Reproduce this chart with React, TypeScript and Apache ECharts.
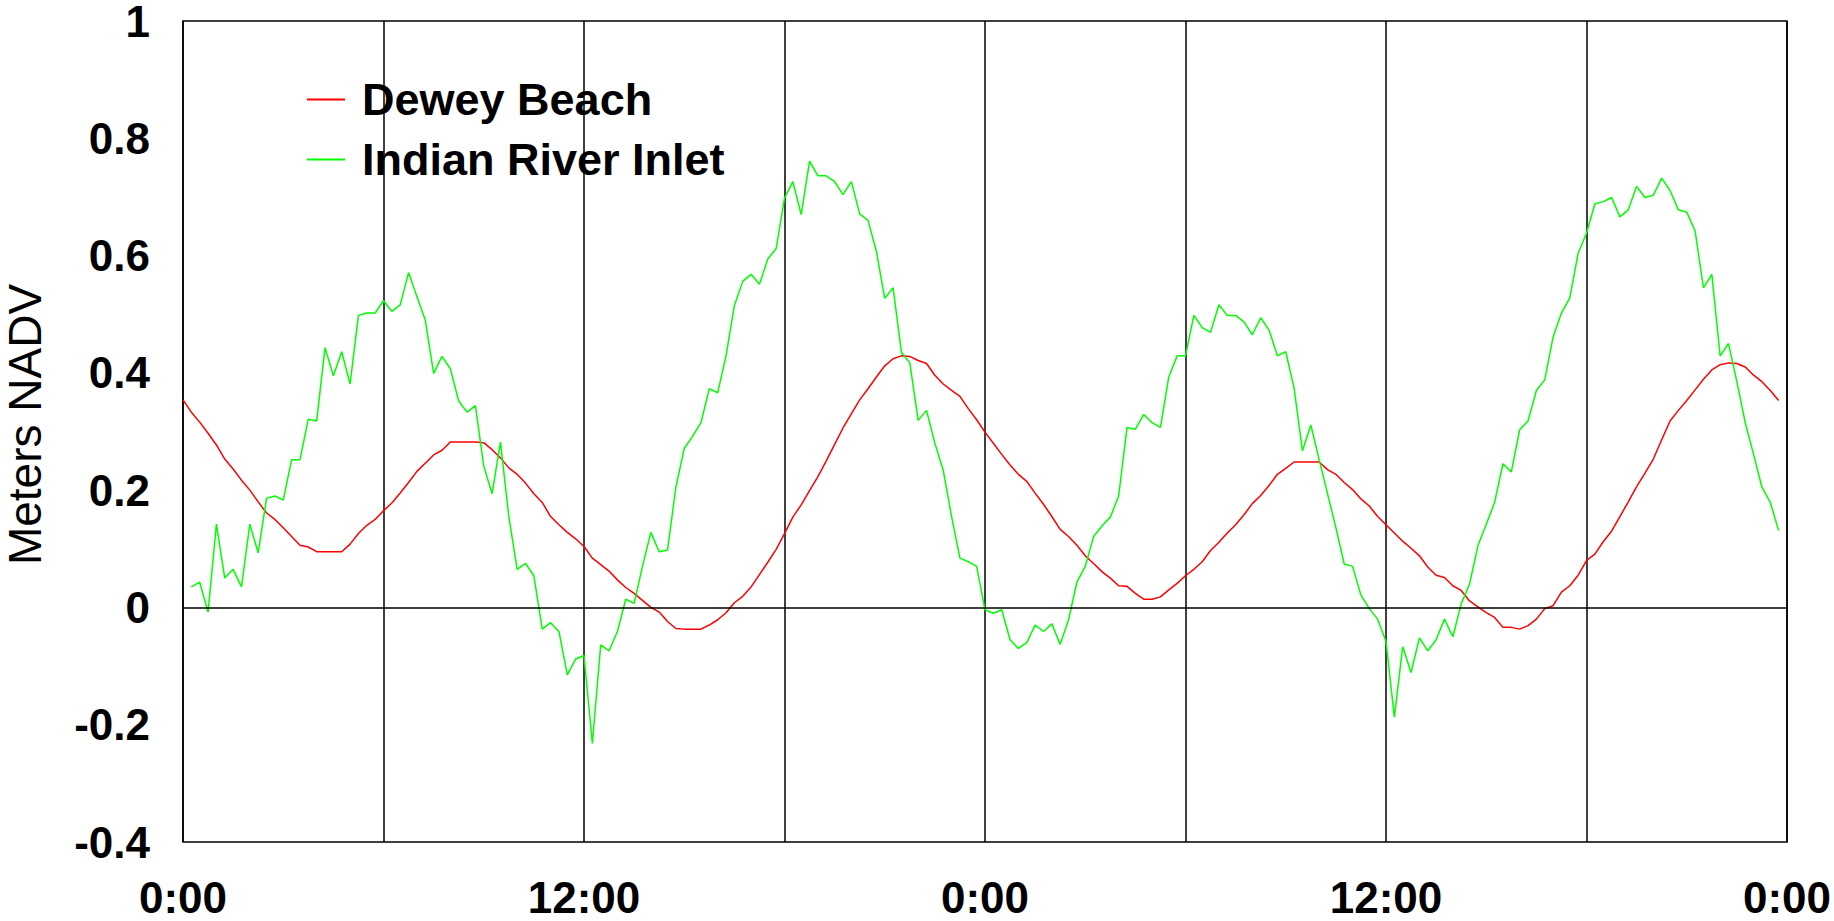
import React, { useEffect, useRef } from "react";
import * as echarts from "echarts";

// Sampling: one reading every 15 minutes, starting at 0:00 of day 1
const STEP_HOURS = 0.25;

// Dewey Beach (red), metres NAVD — day 1, 0:00–23:45
const DEWEY_DAY1 = [
  0.354, 0.333, 0.316, 0.297, 0.277, 0.253, 0.236, 0.217,
  0.200, 0.180, 0.161, 0.150, 0.136, 0.121, 0.106, 0.103,
  0.095, 0.095, 0.095, 0.095, 0.108, 0.126, 0.140, 0.150,
  0.165, 0.178, 0.195, 0.213, 0.232, 0.246, 0.260, 0.268,
  0.282, 0.282, 0.282, 0.282, 0.281, 0.269, 0.255, 0.238,
  0.227, 0.212, 0.194, 0.179, 0.155, 0.141, 0.128, 0.117,
  0.104, 0.084, 0.073, 0.062, 0.047, 0.034, 0.024, 0.012,
  0.000, -0.008, -0.024, -0.036, -0.037, -0.037, -0.037, -0.030,
  -0.021, -0.009, 0.008, 0.019, 0.035, 0.056, 0.077, 0.099,
  0.126, 0.154, 0.175, 0.199, 0.223, 0.250, 0.278, 0.306,
  0.330, 0.354, 0.373, 0.393, 0.412, 0.424, 0.429, 0.428,
  0.421, 0.416, 0.396, 0.381, 0.370, 0.360, 0.339, 0.320,
];

// Dewey Beach — day 2, 0:00–23:45
const DEWEY_DAY2 = [
  0.299, 0.280, 0.261, 0.243, 0.227, 0.215, 0.195, 0.176,
  0.155, 0.133, 0.121, 0.106, 0.088, 0.075, 0.061, 0.050,
  0.037, 0.036, 0.024, 0.014, 0.014, 0.018, 0.030, 0.041,
  0.054, 0.065, 0.078, 0.097, 0.111, 0.127, 0.141, 0.158,
  0.177, 0.191, 0.208, 0.227, 0.237, 0.248, 0.248, 0.248,
  0.248, 0.235, 0.227, 0.213, 0.201, 0.185, 0.173, 0.155,
  0.141, 0.127, 0.113, 0.101, 0.088, 0.069, 0.055, 0.051,
  0.037, 0.029, 0.011, 0.001, -0.009, -0.017, -0.034, -0.034,
  -0.037, -0.031, -0.020, -0.002, 0.003, 0.026, 0.037, 0.055,
  0.080, 0.091, 0.112, 0.130, 0.155, 0.180, 0.206, 0.229,
  0.253, 0.286, 0.318, 0.336, 0.353, 0.371, 0.389, 0.405,
  0.414, 0.417, 0.416, 0.410, 0.396, 0.385, 0.370, 0.353,
];

// Indian River Inlet (green) — day 1, 0:00–23:45 (no reading at 0:00)
const INLET_DAY1 = [
  null, 0.035, 0.043, -0.008, 0.142, 0.050, 0.065, 0.035,
  0.142, 0.093, 0.186, 0.190, 0.183, 0.252, 0.252, 0.321,
  0.318, 0.443, 0.395, 0.436, 0.381, 0.498, 0.502, 0.502,
  0.523, 0.505, 0.516, 0.571, 0.530, 0.490, 0.399, 0.428,
  0.407, 0.352, 0.333, 0.344, 0.241, 0.194, 0.282, 0.155,
  0.065, 0.075, 0.054, -0.037, -0.026, -0.041, -0.115, -0.088,
  -0.082, -0.232, -0.064, -0.074, -0.041, 0.014, 0.007, 0.070,
  0.128, 0.095, 0.098, 0.205, 0.271, 0.292, 0.315, 0.373,
  0.366, 0.429, 0.515, 0.556, 0.568, 0.551, 0.594, 0.612,
  0.698, 0.726, 0.670, 0.761, 0.736, 0.736, 0.726, 0.704,
  0.726, 0.671, 0.660, 0.607, 0.527, 0.545, 0.435, 0.417,
  0.319, 0.336, 0.280, 0.234, 0.155, 0.084, 0.078, 0.070,
];

// Indian River Inlet — day 2, 0:00–23:45
const INLET_DAY2 = [
  -0.004, -0.010, -0.004, -0.055, -0.070, -0.060, -0.030, -0.041,
  -0.028, -0.063, -0.021, 0.043, 0.070, 0.121, 0.139, 0.154,
  0.190, 0.307, 0.304, 0.329, 0.315, 0.307, 0.393, 0.429,
  0.429, 0.498, 0.477, 0.469, 0.516, 0.498, 0.498, 0.487,
  0.465, 0.494, 0.473, 0.429, 0.436, 0.374, 0.267, 0.311,
  0.252, 0.194, 0.136, 0.074, 0.070, 0.021, -0.002, -0.020,
  -0.058, -0.187, -0.067, -0.111, -0.052, -0.074, -0.055, -0.020,
  -0.050, 0.006, 0.040, 0.105, 0.142, 0.179, 0.245, 0.231,
  0.303, 0.318, 0.370, 0.388, 0.461, 0.502, 0.528, 0.604,
  0.638, 0.688, 0.692, 0.699, 0.666, 0.678, 0.718, 0.699,
  0.703, 0.732, 0.711, 0.678, 0.674, 0.642, 0.545, 0.568,
  0.429, 0.450, 0.385, 0.315, 0.261, 0.205, 0.179, 0.131,
];

// x tick labels every 12 hours
const X_TICK_LABELS = ["0:00", "12:00", "0:00", "12:00", "0:00"];
const SERIES_NAMES = ["Dewey Beach", "Indian River Inlet"];
const Y_TITLE = "Meters NADV";

const FONT = "'Liberation Sans', Arial, Helvetica, sans-serif";

function toPairs(values: (number | null)[]) {
  return values.map((v, i) => [i * STEP_HOURS, v]);
}

export default function App() {
  const ref = useRef<HTMLDivElement>(null);

  useEffect(() => {
    if (!ref.current) return;
    const chart = echarts.init(ref.current, null, { renderer: "svg" });
    const dewey = toPairs([...DEWEY_DAY1, ...DEWEY_DAY2]);
    const inlet = toPairs([...INLET_DAY1, ...INLET_DAY2]);

    chart.setOption({
      animation: false,
      backgroundColor: "#ffffff",
      grid: {
        left: 183,
        right: 47,
        top: 21,
        bottom: 79,
        show: true,
        borderColor: "#000",
        borderWidth: 1.5,
        containLabel: false,
        outerBoundsMode: "none",
      },
      legend: {
        orient: "vertical",
        left: 302,
        top: 72,
        itemWidth: 38,
        itemHeight: 2,
        itemGap: 15,
        icon: "rect",
        textStyle: {
          fontFamily: FONT,
          fontSize: 45,
          fontWeight: "bold",
          color: "#000",
          padding: [0, 0, 0, 12],
        },
        data: SERIES_NAMES,
      },
      xAxis: {
        type: "value",
        min: 0,
        max: 48,
        interval: 6,
        axisLine: { show: false },
        axisTick: { show: false },
        splitLine: { show: true, lineStyle: { color: "#000", width: 1.5 } },
        axisLabel: {
          margin: 33,
          fontFamily: FONT,
          fontSize: 44,
          fontWeight: "bold",
          color: "#000",
          showMinLabel: true,
          showMaxLabel: true,
          formatter: (v: number) =>
            v % 12 === 0 ? X_TICK_LABELS[Math.round(v / 12)] : "",
        },
      },
      yAxis: {
        type: "value",
        min: -0.4,
        max: 1,
        interval: 0.2,
        name: Y_TITLE,
        nameLocation: "middle",
        nameGap: 135,
        nameTextStyle: {
          fontFamily: FONT,
          fontSize: 46,
          color: "#000",
          padding: [0, 0, 0, 14],
        },
        axisLine: { show: false },
        axisTick: { show: false },
        splitLine: { show: false },
        axisLabel: {
          margin: 33,
          fontFamily: FONT,
          fontSize: 44,
          lineHeight: 38,
          fontWeight: "bold",
          color: "#000",
          formatter: (v: number) => String(Math.round(v * 10) / 10),
        },
      },
      series: [
        {
          name: SERIES_NAMES[0],
          type: "line",
          data: dewey,
          showSymbol: false,
          symbol: "none",
          lineStyle: { color: "#ff0000", width: 1.5 },
          itemStyle: { color: "#ff0000" },
          markLine: {
            silent: true,
            symbol: ["none", "none"],
            label: { show: false },
            lineStyle: { color: "#000", width: 1.5, type: "solid" },
            data: [{ yAxis: 0 }],
          },
          z: 2,
        },
        {
          name: SERIES_NAMES[1],
          type: "line",
          data: inlet,
          showSymbol: false,
          symbol: "none",
          connectNulls: false,
          lineStyle: { color: "#00ff00", width: 1.5 },
          itemStyle: { color: "#00ff00" },
          z: 3,
        },
      ],
    });

    return () => chart.dispose();
  }, []);

  return (
    <div
      ref={ref}
      style={{
        position: "fixed",
        left: 0,
        top: 0,
        width: 1834,
        height: 921,
        background: "#fff",
      }}
    />
  );
}
